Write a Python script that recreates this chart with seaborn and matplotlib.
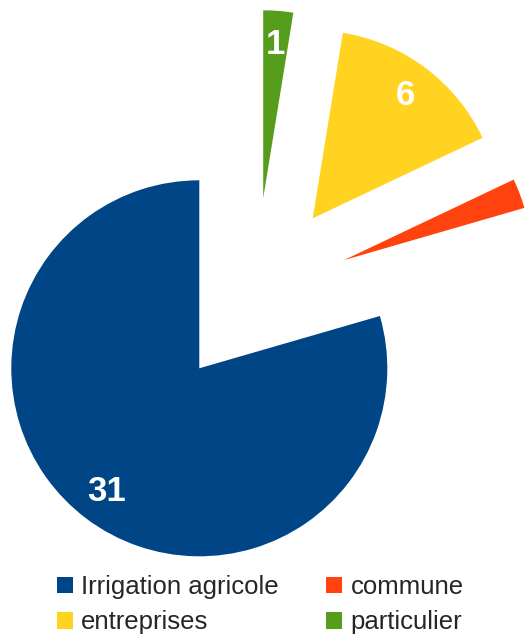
import numpy as np
import matplotlib
matplotlib.use("Agg")
import matplotlib.pyplot as plt
import seaborn as sns

# data
categories = ["Irrigation agricole", "commune", "entreprises", "particulier"]
values = [31, 1, 6, 1]
show_label = [True, False, True, True]
colors = ["#004586", "#ff420e", "#ffd320", "#579d1c"]

# explosion of each slice (distance in radius units, direction in degrees)
shift_dist = [0, 0.96, 1.0, 0.966]
shift_ang = [0, 36.8, 52.9, 69.4]

sns.set_theme(style="white")
plt.rcParams["font.family"] = ["Liberation Sans", "DejaVu Sans"]

fig = plt.figure(figsize=(5.26, 6.36), dpi=100)
ax = fig.add_axes([0, 0, 1, 1])

labels = [str(v) if s else "" for v, s in zip(values, show_label)]
wedges, texts = ax.pie(values, colors=sns.color_palette(colors), startangle=90,
                       counterclock=True, radius=1, labels=labels,
                       labeldistance=0.82,
                       textprops=dict(color="white", fontsize=25,
                                      fontweight="bold", ha="center", va="center"),
                       wedgeprops=dict(linewidth=0))

for w, t, d, a in zip(wedges, texts, shift_dist, shift_ang):
    dx = d * np.cos(np.radians(a))
    dy = d * np.sin(np.radians(a))
    w.set_center((dx, dy))
    x, y = t.get_position()
    t.set_position((x + dx, y + dy))
    t.set_ha("center")

# pie centre sits at (199, 368) px, radius 188 px
r_px = 188.0
cx, cy = 199.3, 636 - 368.3
ax.set_xlim(-cx / r_px, (526 - cx) / r_px)
ax.set_ylim(-cy / r_px, (636 - cy) / r_px)
ax.set_aspect("equal")
ax.axis("off")

order = [0, 2, 1, 3]
leg = fig.legend([wedges[i] for i in order], [categories[i] for i in order],
                 ncol=2, loc="upper left", bbox_to_anchor=(57 / 526, 1 - 575 / 636),
                 frameon=False, fontsize=18.5, handlelength=0.62, handleheight=0.62,
                 handletextpad=0.32, columnspacing=1.85, labelspacing=0.44,
                 borderpad=0, borderaxespad=0)

fig.savefig("out.png", dpi=100)
